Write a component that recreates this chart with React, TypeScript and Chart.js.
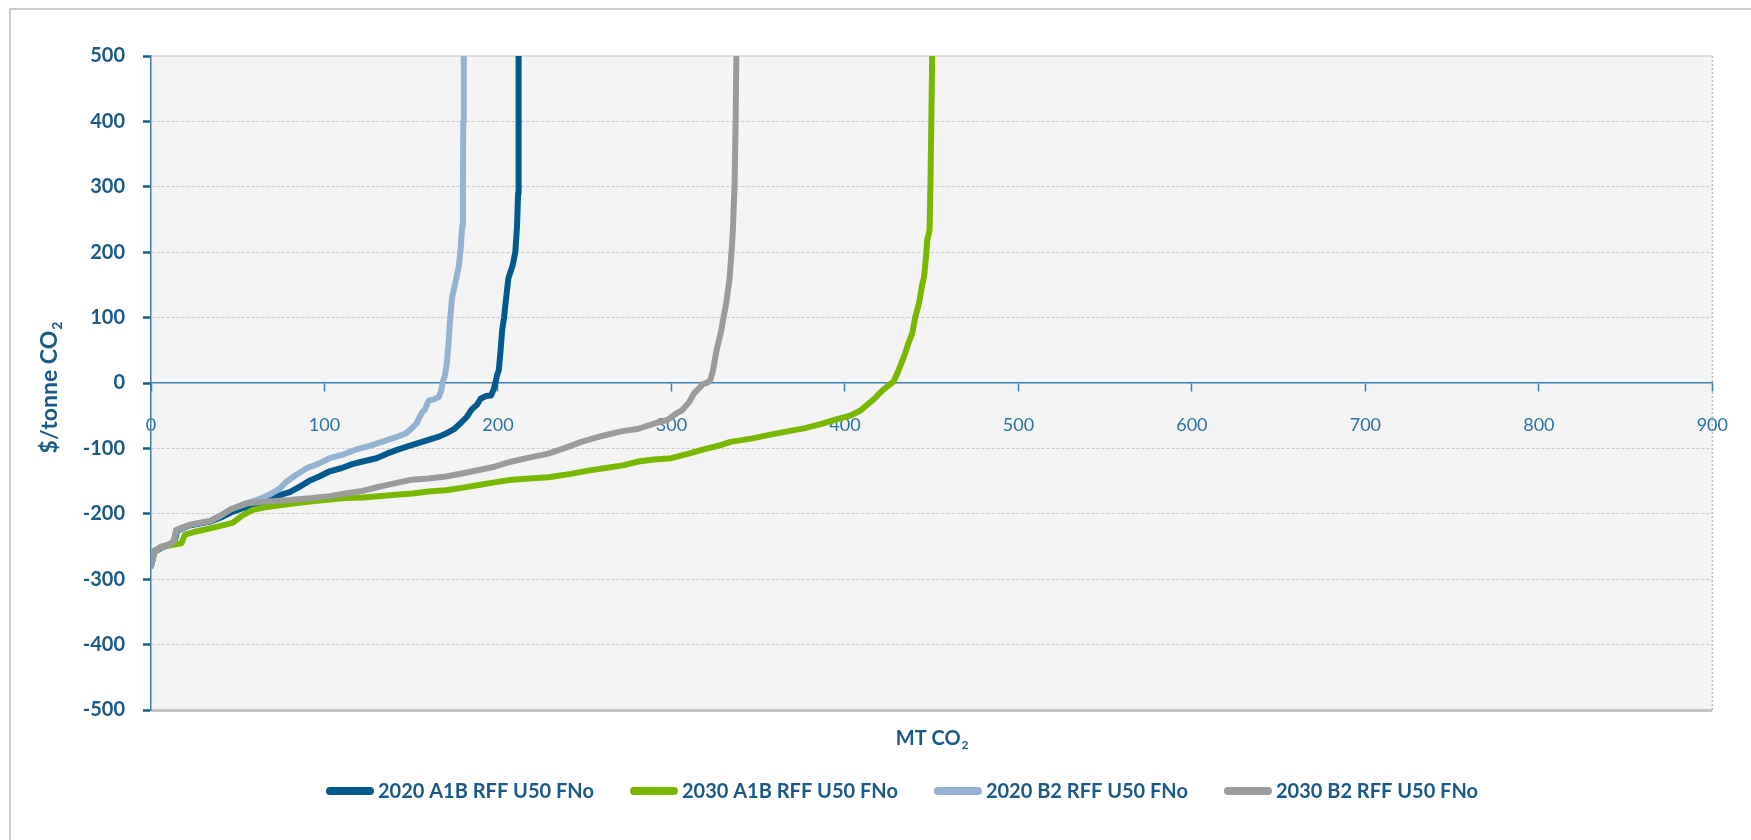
import React, { useEffect, useRef } from "react";
import { Chart, registerables } from "chart.js";

Chart.register(...registerables);

// ---- data ----
const seriesLabels = [
  "2020 A1B RFF U50 FNo",
  "2030 A1B RFF U50 FNo",
  "2020 B2 RFF U50 FNo",
  "2030 B2 RFF U50 FNo",
];
const seriesColors = ["#005A8C", "#7AB800", "#95B3D0", "#9B9B9B"];

const a1b2020X = [0, 2, 6, 12, 14, 15, 22, 34, 40, 46, 52, 58, 64, 70, 76, 80, 86, 91, 97, 103, 110, 116, 122, 130, 136, 141, 148, 154, 160, 166, 171, 175, 179, 182, 185, 188, 190, 193, 196, 197.5, 198.5, 199.5, 200.5, 201.5, 202.4, 203.5, 204.5, 206, 208.5, 210, 211, 211.6, 211.8, 212];
const a1b2020Y = [-280, -258, -252, -246, -238, -226, -218, -212, -206, -198, -192, -188, -183, -176, -170, -167, -158, -150, -143, -135, -130, -124, -120, -115, -108, -103, -97, -92, -87, -82, -76, -70, -60, -52, -40, -33, -24, -20, -19, -10, 0, 12, 20, 50, 80, 100, 125, 160, 180, 200, 240, 290, 400, 500];

const a1b2030X = [0, 2, 6, 11, 17.6, 19.5, 26, 37.7, 47, 53, 58.7, 66, 74, 83, 93, 103, 112, 122, 131, 141, 151, 160, 170, 180, 189, 198, 208, 218, 229, 242, 252, 262, 272, 281, 290, 300, 310, 319, 327, 334, 346, 357, 367, 377, 386, 396, 403, 409, 413, 417, 421, 424.5, 428, 431, 434, 436.5, 438.8, 440.5, 442.7, 444.5, 445.6, 447, 447.4, 448.8, 449.3, 449.8, 450.3];
const a1b2030Y = [-280, -258, -250, -248, -245, -232, -227, -220, -214, -202, -194, -190, -187, -184, -181, -178, -176, -175, -173, -171, -169, -166, -164, -160, -156, -152, -148, -146, -144, -139, -134, -130, -126, -120, -117, -115, -108, -101, -96, -90, -85, -79, -74, -69, -63, -55, -50, -42, -33, -24, -13, -5, 2, 20, 40, 60, 76, 100, 122, 150, 162, 200, 218, 234, 305, 400, 500];

const b22020X = [0, 2, 6, 12, 13.5, 14.5, 22, 34, 40, 46, 55, 62, 68, 74, 78, 84, 90, 96, 103, 110, 118, 126, 133, 140, 147, 150, 153, 156, 158, 160, 163, 166, 167.5, 168, 169.5, 170.5, 171.5, 172.5, 173.5, 176, 177.5, 178.5, 179.4, 179.8, 180, 180.3];
const b22020Y = [-280, -256, -251, -245, -238, -225, -217, -211, -203, -193, -184, -178, -171, -162, -151, -140, -130, -124, -115, -110, -102, -96, -90, -84, -77, -70, -62, -46, -40, -27, -25, -21, -10, 0, 12, 30, 60, 100, 130, 160, 180, 205, 240, 300, 400, 500];

const b22030X = [0, 2, 6, 12, 13.5, 14.5, 22, 34, 40, 46, 55, 68, 80, 93, 103, 112, 122, 131, 141, 150, 160, 170, 180, 189, 198, 208, 218, 229, 238, 248, 260, 271, 281, 290, 298, 303, 306, 310, 313, 316, 318, 321, 322.5, 324, 326, 328.7, 330, 331.6, 333.5, 334.9, 335.5, 336.4, 337, 337.4];
const b22030Y = [-280, -256, -251, -245, -238, -225, -217, -211, -203, -193, -184, -181, -179, -176, -173, -169, -165, -159, -153, -148, -146, -143, -138, -133, -128, -120, -114, -108, -100, -90, -81, -74, -70, -62, -56, -46, -42, -30, -16, -8, -2, 1, 5, 20, 50, 80, 100, 122, 160, 210, 240, 305, 400, 500];

const xMin = 0;
const xMax = 900;
const xStep = 100;
const yMin = -500;
const yMax = 500;
const yStep = 100;

const xTitle = "MT CO";
const yTitle = "$/tonne CO";
const subscript = "2";

// ---- styles ----
const FONT = "Lato, 'Open Sans', 'DejaVu Sans', sans-serif";
const DARK_TEXT = "#1B5A87";
const AXIS_BLUE = "#3C7FB1";

const toPoints = (xs: number[], ys: number[]) => xs.map((x, i) => ({ x, y: ys[i] }));

const decorPlugin = {
  id: "decor",
  beforeDraw(chart: any) {
    const { ctx, chartArea: a, width, height } = chart;
    ctx.save();
    ctx.fillStyle = "#ffffff";
    ctx.fillRect(0, 0, width, height);
    // outer frame
    ctx.strokeStyle = "#CACACA";
    ctx.lineWidth = 2;
    ctx.beginPath();
    ctx.moveTo(10, height + 5);
    ctx.lineTo(10, 9);
    ctx.lineTo(width + 5, 9);
    ctx.stroke();
    // plot background
    ctx.fillStyle = "#F4F4F4";
    ctx.fillRect(a.left, a.top, a.right - a.left, a.bottom - a.top);
    // top edge
    ctx.strokeStyle = "#D6D6D6";
    ctx.lineWidth = 1.5;
    ctx.beginPath();
    ctx.moveTo(a.left, a.top);
    ctx.lineTo(a.right, a.top);
    ctx.stroke();
    // right dotted edge
    ctx.strokeStyle = "#BDBDBD";
    ctx.setLineDash([2, 2]);
    ctx.beginPath();
    ctx.moveTo(a.right, a.top);
    ctx.lineTo(a.right, a.bottom);
    ctx.stroke();
    ctx.setLineDash([]);
    // bottom edge
    ctx.strokeStyle = "#C4C4C4";
    ctx.lineWidth = 3;
    ctx.beginPath();
    ctx.moveTo(a.left, a.bottom + 0.5);
    ctx.lineTo(a.right, a.bottom + 0.5);
    ctx.stroke();
    ctx.restore();
  },
  afterDraw(chart: any) {
    const { ctx, chartArea: a } = chart;
    ctx.save();
    ctx.fillStyle = DARK_TEXT;
    ctx.textBaseline = "middle";

    const drawSub = (main: string, cx: number, cy: number, size: number) => {
      ctx.font = `bold ${size}px ${FONT}`;
      const w1 = ctx.measureText(main).width;
      ctx.font = `bold ${Math.round(size * 0.62)}px ${FONT}`;
      const w2 = ctx.measureText(subscript).width;
      const start = cx - (w1 + w2) / 2;
      ctx.font = `bold ${size}px ${FONT}`;
      ctx.textAlign = "left";
      ctx.fillText(main, start, cy);
      ctx.font = `bold ${Math.round(size * 0.62)}px ${FONT}`;
      ctx.fillText(subscript, start + w1 + 1, cy + size * 0.32);
    };

    // x title
    drawSub(xTitle, (a.left + a.right) / 2, 739, 20);

    // y title (rotated)
    ctx.save();
    ctx.translate(50, 388);
    ctx.rotate(-Math.PI / 2);
    drawSub(yTitle, 0, 0, 23);
    ctx.restore();

    // legend
    const size = 20;
    ctx.font = `bold ${size}px ${FONT}`;
    const lineLen = 48;
    const gapText = 4;
    const itemGap = 36;
    const widths = seriesLabels.map((l) => ctx.measureText(l).width);
    const total = widths.reduce((s, w) => s + lineLen + gapText + w, 0) + itemGap * (seriesLabels.length - 1);
    let x = 902 - total / 2;
    const ly = 791;
    seriesLabels.forEach((label, i) => {
      ctx.strokeStyle = seriesColors[i];
      ctx.lineWidth = 8;
      ctx.lineCap = "round";
      ctx.beginPath();
      ctx.moveTo(x + 4, ly);
      ctx.lineTo(x + lineLen - 4, ly);
      ctx.stroke();
      ctx.fillStyle = DARK_TEXT;
      ctx.textAlign = "left";
      ctx.fillText(label, x + lineLen + gapText, ly + 1);
      x += lineLen + gapText + widths[i] + itemGap;
    });
    ctx.restore();
  },
};

export default function App() {
  const canvasRef = useRef<HTMLCanvasElement | null>(null);

  useEffect(() => {
    document.body.style.margin = "0";
    const canvas = canvasRef.current;
    if (!canvas) return;
    const seriesX = [a1b2020X, a1b2030X, b22020X, b22030X];
    const seriesY = [a1b2020Y, a1b2030Y, b22020Y, b22030Y];
    const drawOrder = [3, 2, 1, 0];
    const chart = new Chart(canvas, {
      type: "line",
      data: {
        datasets: seriesLabels.map((label, i) => ({
          label,
          data: toPoints(seriesX[i], seriesY[i]),
          borderColor: seriesColors[i],
          backgroundColor: seriesColors[i],
          borderWidth: 6,
          pointRadius: 0,
          tension: 0,
          borderCapStyle: "round",
          borderJoinStyle: "round",
          order: drawOrder[i],
        })),
      },
      options: {
        responsive: false,
        animation: false,
        devicePixelRatio: 1,
        layout: { padding: { left: 10, right: 33, top: 56, bottom: 130 } },
        plugins: { legend: { display: false }, tooltip: { enabled: false } },
        scales: {
          x: {
            type: "linear",
            min: xMin,
            max: xMax,
            position: { y: 0 } as any,
            ticks: {
              stepSize: xStep,
              color: "#2B72A4",
              font: { family: FONT, size: 18 },
              padding: 23,
              maxRotation: 0,
              autoSkip: false,
            },
            grid: {
              drawOnChartArea: false,
              drawTicks: true,
              tickLength: 8,
              tickColor: AXIS_BLUE,
              tickWidth: 1.5,
            },
            border: { display: true, color: AXIS_BLUE, width: 1.5 },
          },
          y: {
            type: "linear",
            min: yMin,
            max: yMax,
            position: "left",
            afterFit: (s: any) => {
              s.width = 141;
            },
            ticks: {
              stepSize: yStep,
              color: DARK_TEXT,
              font: { family: FONT, size: 20, weight: "bold" },
              padding: 18,
            },
            grid: {
              color: (c: any) =>
                c.tick && (c.tick.value === yMax || c.tick.value === 0 || c.tick.value === yMin)
                  ? "rgba(0,0,0,0)"
                  : "#C9C9C9",
              lineWidth: 1,
              tickLength: 8,
              tickColor: DARK_TEXT,
              tickWidth: 2.5,
            },
            border: { display: true, color: AXIS_BLUE, width: 1.5, dash: [3, 2] },
          },
        },
      },
      plugins: [decorPlugin],
    } as any);

    let alive = true;
    if ((document as any).fonts && (document as any).fonts.load) {
      Promise.all([
        (document as any).fonts.load(`bold 20px Lato`),
        (document as any).fonts.load(`18px Lato`),
      ])
        .then(() => {
          if (alive) chart.update();
        })
        .catch(() => {});
    }

    return () => {
      alive = false;
      chart.destroy();
    };
  }, []);

  return (
    <div style={{ width: 1751, height: 840, overflow: "hidden" }}>
      <canvas ref={canvasRef} width={1751} height={840} style={{ display: "block" }} />
    </div>
  );
}
